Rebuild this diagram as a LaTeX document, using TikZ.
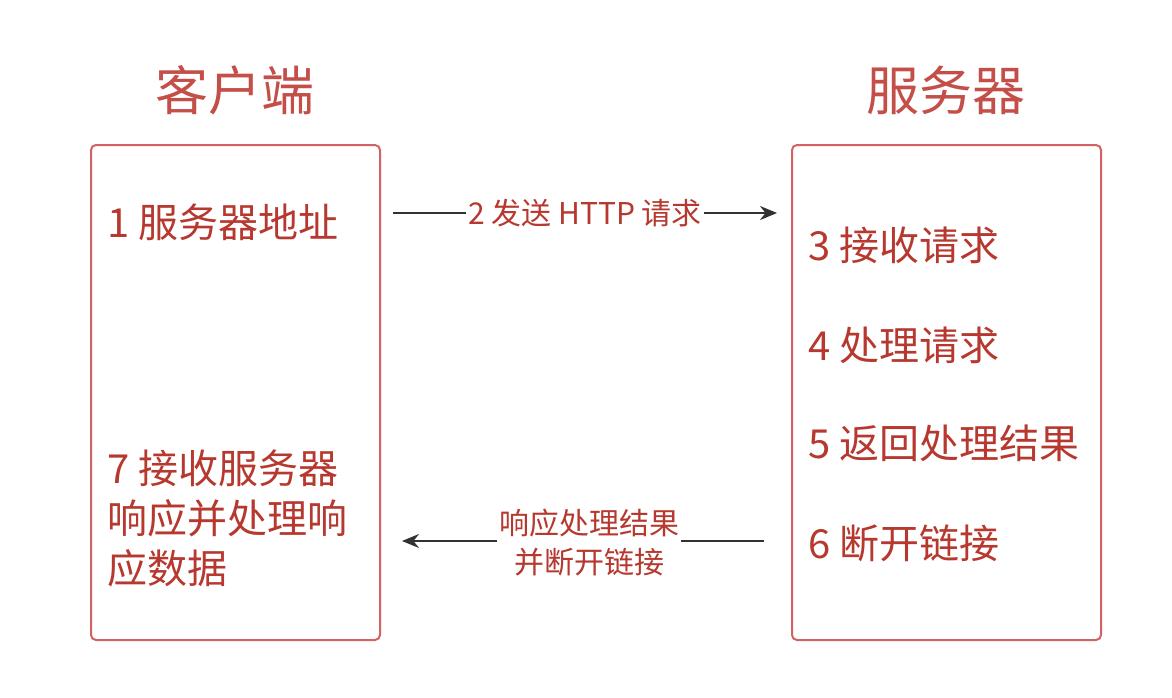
\documentclass[tikz,border=0pt]{standalone}
\usepackage{fontspec}
\setmainfont{Noto Sans CJK SC}
\usetikzlibrary{arrows.meta}
\definecolor{txtred}{RGB}{182,56,46}
\definecolor{titlered}{RGB}{196,78,72}
\definecolor{boxred}{RGB}{212,98,98}
\definecolor{arrowgray}{RGB}{50,50,50}
\tikzset{
  panel/.style={draw=boxred, line width=2pt, rounded corners=5pt},
  title/.style={text=titlered, font=\fontsize{53}{58}\selectfont, inner sep=0pt},
  stepitem/.style={text=txtred, font=\fontsize{40}{50}\selectfont, anchor=west, inner sep=0pt, align=left},
  msg/.style={text=txtred, font=\fontsize{30}{39}\selectfont, fill=white, inner sep=2pt, align=center},
  flow/.style={draw=arrowgray, line width=2.2pt, -{Stealth[length=17pt,width=14pt]}}
}
\begin{document}
\begin{tikzpicture}[x=1pt,y=-1pt]
\useasboundingbox[fill=white] (0,0) rectangle (1172,698);

% the two parties
\draw[panel] (91,145) rectangle (380,640);
\draw[panel] (792,145) rectangle (1101,640);
\node[title] (client) at (235,90) {客户端};
\node[title] (server) at (946,90) {服务器};

% client steps
\node[stepitem] (s1) at (107,222) {1 服务器地址};
\node[stepitem] (s7) at (107,518) {7 接收服务器\\响应并处理响\\应数据};

% server steps
\node[stepitem] (s3) at (808,245) {3 接收请求};
\node[stepitem] (s4) at (808,345) {4 处理请求};
\node[stepitem] (s5) at (808,443) {5 返回处理结果};
\node[stepitem] (s6) at (808,543) {6 断开链接};

% request: client -> server
\coordinate (reqA) at (393,213);
\coordinate (reqB) at (777,213);
\draw[flow] (reqA) -- node[msg] (req) {2 发送 HTTP 请求} (reqB);

% response: server -> client
\coordinate (resA) at (764,541);
\coordinate (resB) at (402,541);
\draw[flow] (resA) -- (resB);
\node[msg] (res) at (589,543) {响应处理结果\\并断开链接};
\end{tikzpicture}
\end{document}
